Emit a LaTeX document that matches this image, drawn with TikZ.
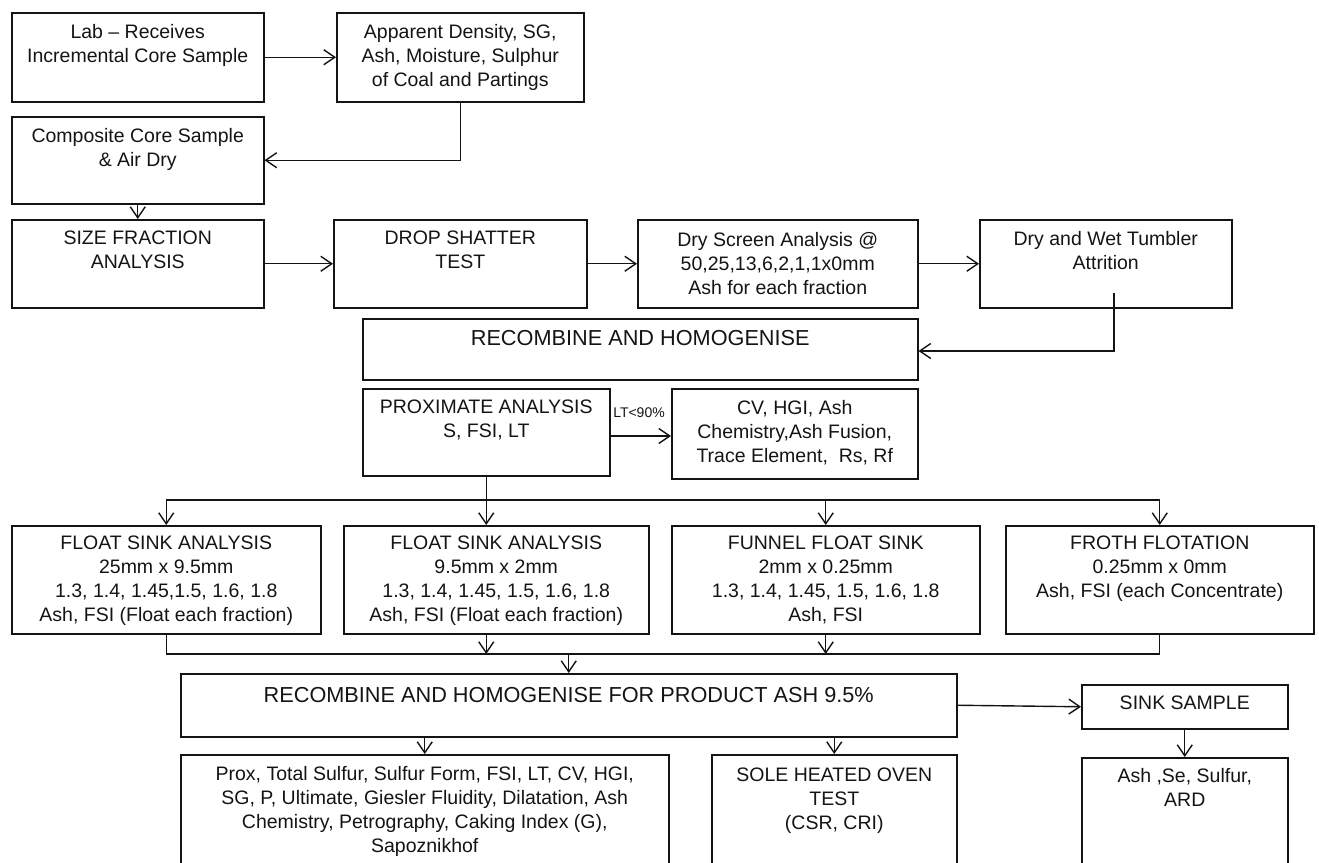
\documentclass[tikz,border=0pt]{standalone}
\usepackage{fontspec}
\setmainfont{Liberation Sans}
\usetikzlibrary{arrows.meta,calc}
\definecolor{ink}{RGB}{20,20,20}
\tikzset{
  box/.style={draw=ink, line width=1.5pt, rectangle, inner sep=0pt, anchor=north west},
  txt/.style={anchor=north, inner sep=0pt, align=center, text=ink, font=\fontsize{19.5}{24}\selectfont},
  bigtxt/.style={anchor=north, inner sep=0pt, align=center, text=ink, font=\fontsize{21.7}{26}\selectfont},
  ltlabel/.style={inner sep=0pt, text=ink, font=\fontsize{14}{16}\selectfont},
  ln/.style={draw=ink, line width=1.4pt},
  arr/.style={draw=ink, line width=1.4pt, -{Straight Barb[length=11pt,width=15pt]}}
}
\begin{document}
\begin{tikzpicture}[x=1pt,y=-1pt]
\clip (0,0) rectangle (1319,862);
\useasboundingbox (0,0) rectangle (1319,862);

% boxes
\node[box, minimum width=252pt, minimum height=89pt] (lab) at (11,12) {};
\node[box, minimum width=247pt, minimum height=89pt] (app) at (336,12) {};
\node[box, minimum width=252pt, minimum height=87pt] (comp) at (11,116) {};
\node[box, minimum width=252pt, minimum height=88pt] (size) at (11,219) {};
\node[box, minimum width=253pt, minimum height=88pt] (drop) at (333,219) {};
\node[box, minimum width=280pt, minimum height=88pt] (dry) at (637,219) {};
\node[box, minimum width=252pt, minimum height=88pt] (tum) at (979,219) {};
\node[box, minimum width=555pt, minimum height=61pt] (rec) at (362,318) {};
\node[box, minimum width=247pt, minimum height=87pt] (prox) at (362,388) {};
\node[box, minimum width=246pt, minimum height=90pt] (cv) at (671,388) {};
\node[box, minimum width=309pt, minimum height=108pt] (f1) at (11,525) {};
\node[box, minimum width=305pt, minimum height=108pt] (f2) at (343,525) {};
\node[box, minimum width=308pt, minimum height=108pt] (f3) at (671,525) {};
\node[box, minimum width=308pt, minimum height=108pt] (f4) at (1005,525) {};
\node[box, minimum width=776pt, minimum height=63pt] (rf) at (180,673) {};
\node[box, minimum width=206pt, minimum height=44pt] (sink) at (1081,684) {};
\node[box, minimum width=488pt, minimum height=125pt] (pb) at (180,754) {};
\node[box, minimum width=245pt, minimum height=125pt] (sole) at (711,754) {};
\node[box, minimum width=206pt, minimum height=122pt] (ash) at (1081,757) {};

% texts
\node[txt] (labt) at ([yshift=-12pt]lab.north) {Lab – Receives\\Incremental Core Sample};
\node[txt] (appt) at ([yshift=-12pt]app.north) {Apparent Density, SG,\\Ash, Moisture, Sulphur\\of Coal and Partings};
\node[txt] (compt) at ([yshift=-12pt]comp.north) {Composite Core Sample\\\& Air Dry};
\node[txt] (sizet) at ([yshift=-12pt]size.north) {SIZE FRACTION\\ANALYSIS};
\node[txt] (dropt) at ([yshift=-12pt]drop.north) {DROP SHATTER\\TEST};
\node[txt] (dryt) at ([yshift=-13pt]dry.north) {Dry Screen Analysis @\\50,25,13,6,2,1,1x0mm\\Ash for each fraction};
\node[txt] (tumt) at ([yshift=-12pt]tum.north) {Dry and Wet Tumbler\\Attrition};
\node[bigtxt] (rect) at ([yshift=-12pt]rec.north) {RECOMBINE AND HOMOGENISE};
\node[txt] (proxt) at ([yshift=-12pt]prox.north) {PROXIMATE ANALYSIS\\S, FSI, LT};
\node[txt] (cvt) at ([yshift=-12pt]cv.north) {CV, HGI, Ash\\Chemistry,Ash Fusion,\\Trace Element,\ \ Rs, Rf};
\node[txt] (f1t) at ([yshift=-11pt]f1.north) {FLOAT SINK ANALYSIS\\25mm x 9.5mm\\1.3, 1.4, 1.45,1.5, 1.6, 1.8\\Ash, FSI (Float each fraction)};
\node[txt] (f2t) at ([yshift=-11pt]f2.north) {FLOAT SINK ANALYSIS\\9.5mm x 2mm\\1.3, 1.4, 1.45, 1.5, 1.6, 1.8\\Ash, FSI (Float each fraction)};
\node[txt] (f3t) at ([yshift=-11pt]f3.north) {FUNNEL FLOAT SINK\\2mm x 0.25mm\\1.3, 1.4, 1.45, 1.5, 1.6, 1.8\\Ash, FSI};
\node[txt] (f4t) at ([yshift=-11pt]f4.north) {FROTH FLOTATION\\0.25mm x 0mm\\Ash, FSI (each Concentrate)};
\node[bigtxt] (rft) at ([yshift=-14pt]rf.north) {RECOMBINE AND HOMOGENISE FOR PRODUCT ASH 9.5\%};
\node[txt] (sinkt) at ([yshift=-12pt]sink.north) {SINK SAMPLE};
\node[txt] (pbt) at ([yshift=-12pt]pb.north) {Prox, Total Sulfur, Sulfur Form, FSI, LT, CV, HGI,\\SG, P, Ultimate, Giesler Fluidity, Dilatation, Ash\\Chemistry, Petrography, Caking Index (G),\\Sapoznikhof};
\node[txt] (solet) at ([yshift=-14pt]sole.north) {SOLE HEATED OVEN\\TEST\\(CSR, CRI)};
\node[txt] (asht) at ([yshift=-11pt]ash.north) {Ash ,Se, Sulfur,\\ARD};

% connectors
\draw[arr] (lab.east) -- (app.west);
\draw[arr] (app.south) |- (comp.east);
\draw[arr] (comp.south) -- (size.north);
\draw[arr] (size.east) -- (drop.west);
\draw[arr] (drop.east) -- (dry.west);
\draw[arr] (dry.east) -- (tum.west);
\coordinate (tumstart) at (1114,293);
\coordinate (recY) at (0,351);
\draw[arr] (tumstart) -- (tumstart |- recY) -- (rec.east |- recY);

\coordinate (ltY) at (0,436);
\draw[arr] (prox.east |- ltY) -- (cv.west |- ltY);
\node[ltlabel] (ltlab) at (639,413) {LT<90\%};

\coordinate (busA) at (0,500);
\draw[ln] (prox.south) -- (prox.south |- busA);
\draw[ln] (f1.north |- busA) -- (f4.north |- busA);
\draw[arr] (f1.north |- busA) -- (f1.north);
\draw[arr] (prox.south |- busA) -- (prox.south |- f2.north);
\draw[arr] (f3.north |- busA) -- (f3.north);
\draw[arr] (f4.north |- busA) -- (f4.north);

\coordinate (busB) at (0,654);
\draw[ln] (f1.south) -- (f1.south |- busB) -- (f4.south |- busB) -- (f4.south);
\draw[arr] (prox.south |- f2.south) -- (prox.south |- busB);
\draw[arr] (f3.south) -- (f3.south |- busB);
\draw[arr] (rf.north |- busB) -- (rf.north);

\draw[arr] (pb.north |- rf.south) -- (pb.north);
\draw[arr] (sole.north |- rf.south) -- (sole.north);
\draw[arr] (rf.east) -- (sink.west);
\draw[arr] (sink.south) -- (ash.north);
\end{tikzpicture}
\end{document}
